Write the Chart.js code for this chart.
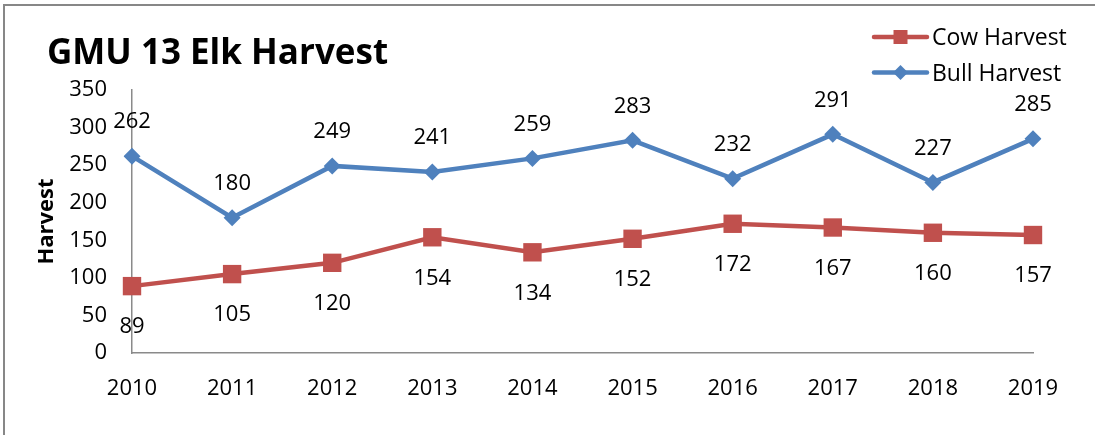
<!DOCTYPE html>
<html>
<head>
<meta charset="utf-8">
<script src="https://cdn.jsdelivr.net/npm/chart.js@4"></script>
<style>
  html, body { margin: 0; padding: 0; background: #fff; overflow: hidden; }
  #wrap { position: relative; width: 1095px; height: 435px; overflow: hidden; }
  #frame { position: absolute; left: 3px; top: 4px; width: 1300px; height: 700px;
           border-left: 2.5px solid #878787; border-top: 2.5px solid #878787; }
  canvas { position: absolute; left: 0; top: 0; }
</style>
</head>
<body>
<div id="wrap">
  <div id="frame"></div>
  <canvas id="c" width="1095" height="435"></canvas>
</div>
<script>
const chartTitle = "GMU 13 Elk Harvest";
const yAxisTitle = "Harvest";
const years = ["2010", "2011", "2012", "2013", "2014", "2015", "2016", "2017", "2018", "2019"];
const cowHarvest = [89, 105, 120, 154, 134, 152, 172, 167, 160, 157];
const bullHarvest = [262, 180, 249, 241, 259, 283, 232, 291, 227, 285];
const seriesNames = ["Cow Harvest", "Bull Harvest"];
const yMin = 0, yMax = 350, yStep = 50;

const RED = "#C0504D";
const BLUE = "#4F81BD";
const FONT = "'Open Sans', 'Liberation Sans', sans-serif";

function drawMarker(ctx, style, x, y, r, color) {
  ctx.save();
  ctx.fillStyle = color;
  ctx.beginPath();
  if (style === "rect") {
    ctx.rect(x - r, y - r, 2 * r, 2 * r);
  } else {
    ctx.moveTo(x - r, y);
    ctx.lineTo(x, y - r);
    ctx.lineTo(x + r, y);
    ctx.lineTo(x, y + r);
    ctx.closePath();
  }
  ctx.fill();
  ctx.restore();
}

const decorPlugin = {
  id: "decor",
  afterDatasetsDraw(chart) {
    const ctx = chart.ctx;
    // data labels
    ctx.save();
    ctx.font = "22px " + FONT;
    ctx.fillStyle = "#000";
    ctx.textAlign = "center";
    ctx.textBaseline = "middle";
    chart.data.datasets.forEach((ds, i) => {
      const meta = chart.getDatasetMeta(i);
      meta.data.forEach((pt, j) => {
        const off = ds.labelPos === "above" ? -34 : 41;
        ctx.fillText(String(ds.data[j]), pt.x, pt.y + off);
      });
    });
    ctx.restore();

    // title
    ctx.save();
    ctx.font = "bold 35px " + FONT;
    ctx.fillStyle = "#000";
    ctx.textAlign = "left";
    ctx.textBaseline = "alphabetic";
    ctx.fillText(chartTitle, 47, 64);
    ctx.restore();

    // legend
    const items = [
      { ds: chart.data.datasets[0], y: 37, style: "rect", r: 7 },
      { ds: chart.data.datasets[1], y: 72.5, style: "diamond", r: 7.5 }
    ];
    items.forEach(it => {
      ctx.save();
      ctx.strokeStyle = it.ds.borderColor;
      ctx.lineWidth = 4.5;
      ctx.lineCap = "round";
      ctx.beginPath();
      ctx.moveTo(874, it.y);
      ctx.lineTo(927, it.y);
      ctx.stroke();
      ctx.restore();
      drawMarker(ctx, it.style, 900.5, it.y, it.r, it.ds.borderColor);
      ctx.save();
      ctx.font = "23px " + FONT;
      ctx.fillStyle = "#000";
      ctx.textAlign = "left";
      ctx.textBaseline = "middle";
      ctx.fillText(it.ds.label, 932, it.y + 1.5);
      ctx.restore();
    });
  }
};

new Chart(document.getElementById("c"), {
  type: "line",
  data: {
    labels: years,
    datasets: [
      {
        label: seriesNames[0],
        data: cowHarvest,
        borderColor: RED,
        backgroundColor: RED,
        borderWidth: 4.5,
        pointStyle: "rect",
        pointRadius: 13,
        pointBorderWidth: 0,
        pointBackgroundColor: RED,
        tension: 0,
        labelPos: "below"
      },
      {
        label: seriesNames[1],
        data: bullHarvest,
        borderColor: BLUE,
        backgroundColor: BLUE,
        borderWidth: 4.5,
        pointStyle: "rectRot",
        pointRadius: 8.5,
        pointBorderWidth: 0,
        pointBackgroundColor: BLUE,
        tension: 0,
        labelPos: "above"
      }
    ]
  },
  options: {
    responsive: false,
    animation: false,
    events: [],
    layout: { padding: { top: 90, right: 62, bottom: 0, left: 0 } },
    plugins: {
      legend: { display: false },
      title: { display: false },
      tooltip: { enabled: false }
    },
    scales: {
      x: {
        type: "category",
        offset: false,
        grid: { display: false, drawTicks: false },
        border: { display: true, color: "#8a8a8a", width: 1.5 },
        ticks: { color: "#000", font: { family: FONT, size: 22 }, padding: 23, maxRotation: 0, autoSkip: false },
        afterFit(scale) { scale.height = 82; }
      },
      y: {
        min: yMin,
        max: yMax,
        grid: { display: false, drawTicks: false },
        border: { display: true, color: "#8a8a8a", width: 1.5 },
        ticks: { stepSize: yStep, color: "#000", font: { family: FONT, size: 22 }, padding: 25 },
        title: {
          display: true,
          text: yAxisTitle,
          color: "#000",
          font: { family: FONT, size: 22, weight: "bold" },
          padding: { top: 34, bottom: 0 }
        },
        afterFit(scale) { scale.width = 132; }
      }
    }
  },
  plugins: [decorPlugin]
});
</script>
</body>
</html>
